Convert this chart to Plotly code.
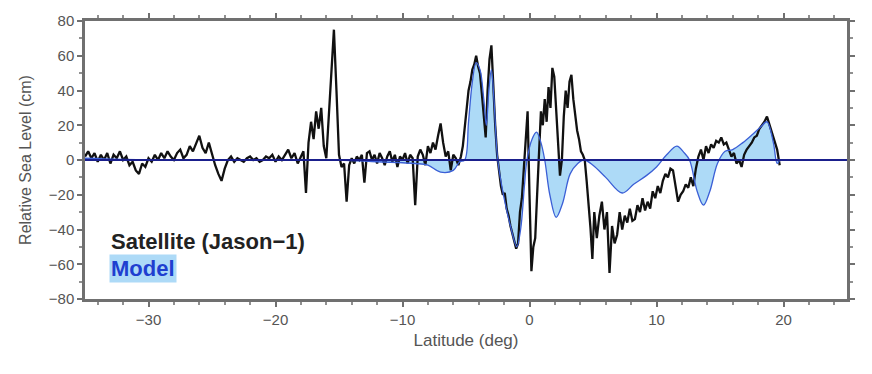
import plotly.graph_objects as go

# Satellite (Jason-1) sea level anomaly, latitude (deg) and value (cm)
sat_lat_a = [-35.0, -34.75, -34.5, -34.25, -34.0, -33.75, -33.5, -33.25, -33.0, -32.75, -32.5, -32.25,
             -32.0, -31.75, -31.5, -31.25, -31.0, -30.75, -30.5, -30.25, -30.0, -29.75, -29.5, -29.25,
             -29.0, -28.75, -28.5, -28.25, -28.0, -27.75, -27.5, -27.25, -27.0, -26.75, -26.5, -26.25,
             -26.0, -25.75, -25.5, -25.25, -25.0, -24.75, -24.5, -24.25, -24.0, -23.75, -23.5, -23.25,
             -23.0, -22.75, -22.5, -22.25, -22.0, -21.75, -21.5, -21.25, -21.0, -20.75, -20.5, -20.25,
             -20.0, -19.75, -19.5, -19.25, -19.0, -18.75, -18.5, -18.25, -18.0]
sat_val_a = [2, 5, 1, 4, -1, 3, 0, 4, -2, 3, 1, 5,
             0, 2, -3, -1, -6, -8, -2, -4, 1, -1, 3, 0,
             4, 1, 5, 2, 0, 4, 6, 1, 3, 8, 5, 9,
             14, 7, 4, 10, 3, -3, -8, -12, -5, 0, 2, -1,
             1, 0, -1, 1, 2, 0, 1, -1, 0, 2, 1, 3,
             -1, 2, 0, 3, 6, 1, 4, -2, 2]

sat_lat_b = [-17.8, -17.6, -17.4, -17.2, -17.0, -16.8, -16.6, -16.4, -16.2, -16.0, -15.8, -15.6,
             -15.4, -15.2, -15.0, -14.8, -14.6, -14.4, -14.2, -14.0, -13.8, -13.6, -13.4, -13.2,
             -13.0, -12.8, -12.6, -12.4, -12.2, -12.0, -11.8, -11.6, -11.4, -11.2, -11.0, -10.8,
             -10.6, -10.4, -10.2, -10.0, -9.8, -9.6, -9.4, -9.2, -9.0, -8.8, -8.6, -8.4,
             -8.2, -8.0, -7.8, -7.6, -7.4, -7.2, -7.0, -6.8, -6.6, -6.4, -6.2, -6.0, -5.8, -5.6]
sat_val_b = [5, -19, 10, 22, 12, 28, 18, 30, 8, 1, 25, 50,
             75, 40, 3, -4, -2, -24, -3, 1, -2, 2, 0, 3,
             -13, 4, 5, 0, 3, -2, 4, 1, -3, 2, 5, -1,
             3, -4, 2, 0, 4, -2, 3, 1, -26, 2, 6, 3,
             -3, 8, 4, 10, 6, 14, 21, 10, 2, 5, -6, 3, 1, -3]

sat_lat_c = [-5.4, -5.25, -5.1, -4.95, -4.8, -4.65, -4.5, -4.35, -4.2, -4.05, -3.9, -3.75,
             -3.6, -3.45, -3.3, -3.15, -3.0, -2.85, -2.7, -2.55, -2.4, -2.25, -2.1, -1.95,
             -1.8, -1.65, -1.5, -1.35, -1.2, -1.05, -0.9, -0.75, -0.6, -0.45, -0.3, -0.15,
             0.0, 0.15, 0.3, 0.45, 0.6, 0.75, 0.9, 1.05, 1.2, 1.35, 1.5, 1.65,
             1.8, 1.95, 2.1, 2.25, 2.4, 2.55, 2.7, 2.85, 3.0, 3.15, 3.3, 3.45,
             3.6, 3.75, 3.9, 4.05, 4.2, 4.35, 4.5, 4.65, 4.8, 4.95, 5.1]
sat_val_c = [2, 8, 20, 32, 40, 45, 52, 55, 60, 54, 50, 38,
             25, 13, 40, 58, 66, 40, 20, 3, -8, -15, -20, -19,
             -28, -32, -38, -42, -46, -51, -48, -30, -22, -5, 10, 28,
             -20, -64, -50, -45, -20, 5, 28, 20, 35, 22, 42, 30,
             53, 48, 30, 10, -9, 0, 25, 40, 30, 45, 49, 35,
             25, 17, 12, 5, 3, 0, -12, -25, -39, -57, -30]

sat_lat_d = [5.3, 5.5, 5.7, 5.9, 6.1, 6.3, 6.5, 6.7, 6.9, 7.1, 7.3, 7.5,
             7.7, 7.9, 8.1, 8.3, 8.5, 8.7, 8.9, 9.1, 9.3, 9.5, 9.7, 9.9,
             10.1, 10.3, 10.5, 10.7, 10.9, 11.1, 11.3, 11.5, 11.7, 11.9, 12.1, 12.3,
             12.5, 12.7, 12.9, 13.1, 13.3, 13.5, 13.7, 13.9, 14.1, 14.3, 14.5, 14.7,
             14.9, 15.1, 15.3, 15.5, 15.7, 15.9, 16.1, 16.3, 16.5, 16.7, 16.9, 17.1,
             17.3, 17.5, 17.7, 17.9, 18.1, 18.3, 18.5, 18.7, 18.9, 19.1, 19.3, 19.5, 19.7]
sat_val_d = [-45, -32, -24, -40, -30, -65, -38, -48, -43, -30, -40, -32,
             -36, -28, -35, -34, -26, -30, -22, -29, -24, -28, -18, -22,
             -15, -19, -12, -8, -10, -5, -6, -14, -24, -20, -18, -14,
             -16, -10, -15, -5, 2, 6, 0, 8, 4, 9, 7, 11,
             10, 13, 9, 10, 6, 2, 4, -2, 0, -4, 3, 6,
             8, 10, 13, 14, 18, 20, 22, 25, 20, 16, 10, 6, -3]

# Model sea level
model_lat = [-35.0, -30.0, -25.0, -20.0, -18.0, -15.0, -12.0, -9.0, -8.0, -7.0, -6.0, -5.5,
             -5.1, -4.8, -4.5, -4.2, -3.9, -3.6, -3.4, -3.2, -3.0, -2.8, -2.5, -2.0,
             -1.5, -1.0, -0.7, -0.4, -0.2, 0.2, 0.55, 0.9, 1.2, 1.6, 2.1, 2.6,
             3.2, 3.8, 4.3, 5.0, 6.0, 7.3, 8.2, 9.2, 10.0, 10.8, 11.6, 12.2,
             12.6, 13.2, 13.7, 14.2, 14.8, 15.4, 16.0, 16.8, 17.6, 18.2, 18.7, 19.2, 19.5, 19.7]
model_val = [1, 0, 0, 0, 0, 0, -1, -2, -3, -7, -6, -1,
             0, 22, 45, 56, 52, 35, 20, 40, 52, 35, 0, -22,
             -38, -50, -40, -15, 0, 12, 16, 10, 0, -20, -33, -25,
             -8, -2, 0, -3, -10, -19, -14, -9, -4, 3, 8, 4,
             0, -18, -26, -18, -2, 5, 6, 10, 15, 19, 22, 10, -2, 0]

x_ticks = [-30, -20, -10, 0, 10, 20]
y_ticks = [-80, -60, -40, -20, 0, 20, 40, 60, 80]

sat_lat = sat_lat_a + sat_lat_b + sat_lat_c + sat_lat_d
sat_val = sat_val_a + sat_val_b + sat_val_c + sat_val_d

FONT = "Liberation Sans, Arial, sans-serif"

fig = go.Figure()
fig.add_trace(go.Scatter(x=model_lat, y=model_val, mode="lines", fill="tozeroy", line_shape="spline",
                         fillcolor="#addaf7", line=dict(color="rgba(0,0,0,0)", width=0),
                         showlegend=False, hoverinfo="skip"))
fig.add_trace(go.Scatter(x=sat_lat, y=sat_val, mode="lines",
                         line=dict(color="#111111", width=2.3), name="Satellite (Jason-1)",
                         showlegend=False))
fig.add_trace(go.Scatter(x=model_lat, y=model_val, mode="lines", line_shape="spline",
                         line=dict(color="#3b5fd6", width=1.3), name="Model", showlegend=False))

fig.add_shape(type="line", xref="paper", x0=0, x1=1, yref="y", y0=0, y1=0,
              line=dict(color="#1a1f8c", width=2), layer="above")

fig.add_annotation(x=-33.1, y=-47, xref="x", yref="y", xanchor="left", yanchor="middle",
                   text="<b>Satellite (Jason\u22121)</b>", showarrow=False,
                   font=dict(family=FONT, size=22, color="#222222"))
fig.add_annotation(x=-33.1, y=-62.5, xref="x", yref="y", xanchor="left", yanchor="middle",
                   text="<b>Model</b>", showarrow=False, bgcolor="#addaf7", borderpad=1,
                   font=dict(family=FONT, size=22, color="#1f3fd0"))

axis_common = dict(showline=True, linecolor="#707070", linewidth=2.5, mirror="ticks",
                   ticks="outside", ticklen=5, tickcolor="#707070", tickwidth=1.5,
                   showgrid=False, zeroline=False,
                   tickfont=dict(family=FONT, size=15, color="#555555"))

fig.update_xaxes(range=[-35, 25], tickvals=x_ticks,
                 ticktext=["\u221230", "\u221220", "\u221210", "0", "10", "20"],
                 minor=dict(dtick=2, ticks="outside", ticklen=3, tickcolor="#909090"),
                 title=dict(text="Latitude (deg)", standoff=8,
                            font=dict(family=FONT, size=17, color="#555555")),
                 **axis_common)
fig.update_yaxes(range=[-80, 80], tickvals=y_ticks,
                 ticktext=["\u221280", "\u221260", "\u221240", "\u221220", "0", "20", "40", "60", "80"],
                 minor=dict(dtick=10, ticks="outside", ticklen=3, tickcolor="#909090"),
                 title=dict(text="Relative Sea Level (cm)", standoff=14,
                            font=dict(family=FONT, size=16, color="#555555")),
                 **axis_common)

fig.update_layout(width=872, height=374, margin=dict(l=85, r=25, t=15, b=75),
                  paper_bgcolor="white", plot_bgcolor="white")

fig.write_html("out.html")
